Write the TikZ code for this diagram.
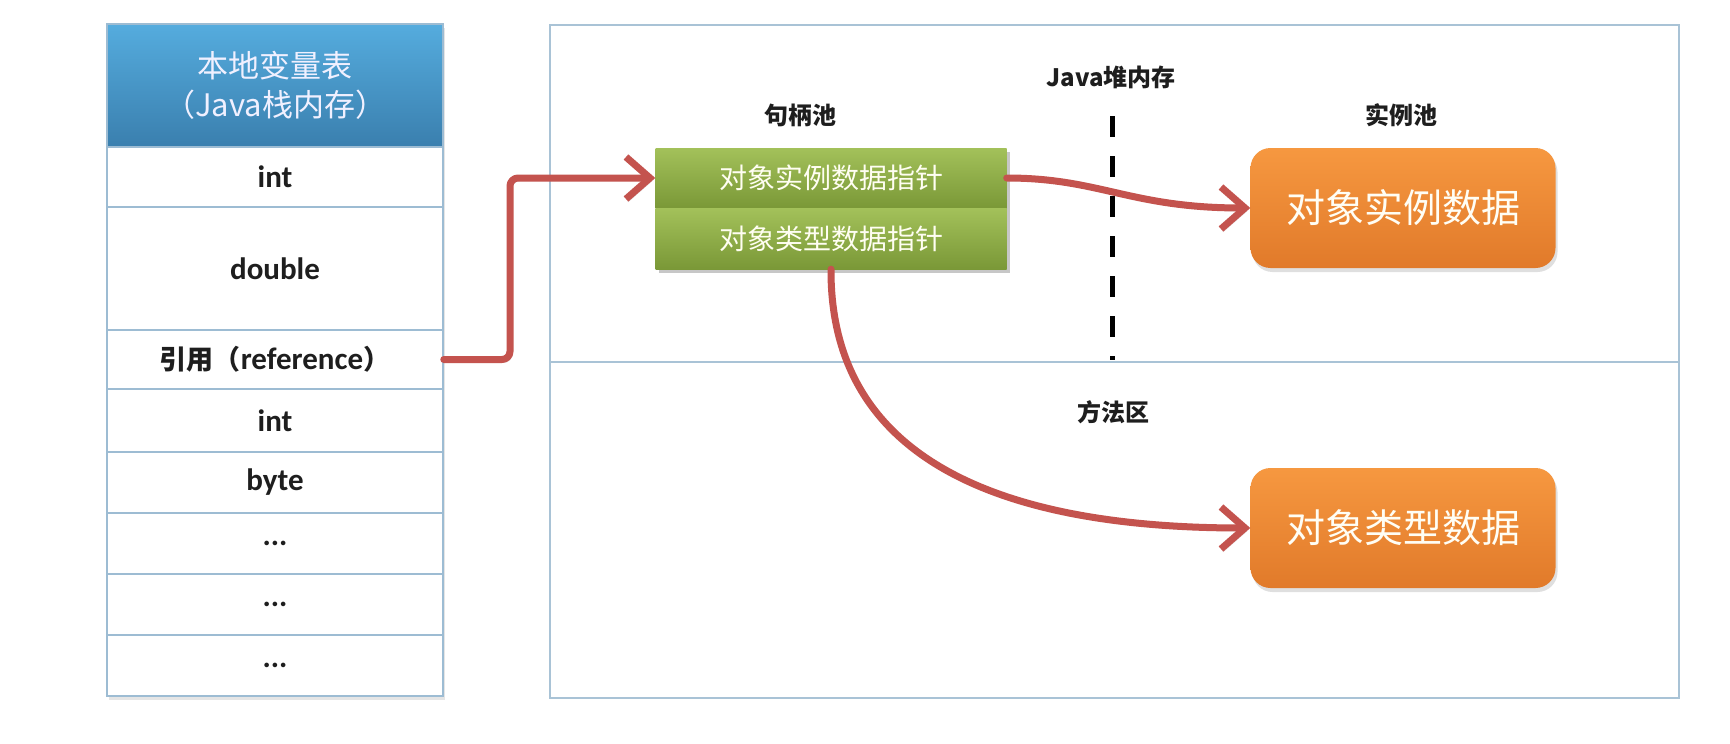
\documentclass[tikz,border=0pt]{standalone}
\usepackage{fontspec}
\setmainfont{Carlito}
\newfontfamily\cjk{Noto Sans CJK SC}
\usetikzlibrary{arrows.meta,shadows}

\definecolor{hdtop}{HTML}{55ACDE}
\definecolor{hdbot}{HTML}{3A7FAE}
\definecolor{gridc}{HTML}{9DBCD3}
\definecolor{boxc}{HTML}{A9C3D6}
\definecolor{grtop}{HTML}{A3C15A}
\definecolor{grbot}{HTML}{7A9837}
\definecolor{ortop}{HTML}{F69840}
\definecolor{orbot}{HTML}{E17A2A}
\definecolor{arrc}{HTML}{C4534E}
\definecolor{txt}{HTML}{1E1E1E}

\newcommand\cnpart[1]{{\cjk\fontsize{27}{30}\selectfont\bfseries #1}}

\tikzset{
  cell/.style={draw=gridc, line width=1.5pt, fill=white, inner sep=0pt,
    minimum width=336pt, text=txt, font=\fontsize{31}{36}\selectfont\bfseries},
  header/.style={cell, top color=hdtop, bottom color=hdbot, text=white!94!blue,
    font=\fontsize{31}{39}\selectfont\cjk, align=center, minimum height=123pt},
  ptr/.style={inner sep=0pt, minimum width=351pt, top color=grtop, bottom color=grbot,
    text=white!95!yellow, font=\fontsize{28}{32}\selectfont\cjk},
  data/.style={rounded corners=20pt, inner sep=0pt, minimum width=305pt, minimum height=120pt,
    top color=ortop, bottom color=orbot, text=white!96!yellow,
    font=\fontsize{39}{44}\selectfont\cjk,
    drop shadow={shadow xshift=2pt, shadow yshift=-4pt, opacity=0.25}},
  lbl/.style={font=\fontsize{24}{28}\selectfont\cjk\bfseries, text=txt},
  link/.style={draw=arrc, line width=7pt, line cap=round, line join=round,
    -{Straight Barb[length=24pt,width=42pt]},
    preaction={draw=black!70, opacity=0.2, transform canvas={shift={(2pt,-3pt)}}}}
}

\begin{document}
\begin{tikzpicture}[x=1pt, y=-1pt]
\useasboundingbox[fill=white] (0,0) rectangle (1730,744);

% heap / method area frame
\node[draw=boxc, line width=2pt, inner sep=0pt, minimum width=1129pt, minimum height=673pt,
      anchor=north west] (heap) at (549,24) {};
\draw[boxc, line width=2pt] (heap.west) -- (heap.east);

% local variable table (Java stack)
\node[cell, minimum height=672pt, fill=white,
      drop shadow={shadow xshift=2pt, shadow yshift=-4pt, opacity=0.2}] (tblbg) at (275,360) {};
\node[header] (hd) at (275,85.5) {本地变量表\\（Java栈内存）};
\node[cell, minimum height=60pt]  (r1) at (275,177)   {int};
\node[cell, minimum height=123pt] (r2) at (275,268.5) {double};
\node[cell, minimum height=59pt]  (r3) at (275,359.5) {\cnpart{引用（}reference\cnpart{）}};
\node[cell, minimum height=63pt]  (r4) at (275,420.5) {int};
\node[cell, minimum height=61pt]  (r5) at (275,482.5) {byte};
\node[cell, minimum height=61pt]  (r6) at (275,543.5) {...};
\node[cell, minimum height=61pt]  (r7) at (275,604.5) {...};
\node[cell, minimum height=61pt]  (r8) at (275,665.5) {...};

% region labels
\node[lbl] (lhandle) at (800,115) {句柄池};
\node[lbl] (lheap)   at (1111,77) {Java堆内存};
\node[lbl] (linst)   at (1401,115) {实例池};
\node[lbl] (lmethod) at (1113,412) {方法区};

% heap / method area dividing dashed line
\coordinate (dtop) at (1112,116);
\coordinate (dbot) at (1112,360);
\draw[black, line width=5pt, dash pattern=on 21pt off 19pt] (dtop) -- (dbot);

% handle pool
\fill[black, opacity=0.22] (659,152) rectangle (1010,273);
\node[ptr, minimum height=60pt] (g1) at (831,178) {对象实例数据指针};
\node[ptr, minimum height=61pt] (g2) at (831,238.5) {对象类型数据指针};

% instance data and type data
\node[data] (inst) at (1403,208) {对象实例数据};
\node[data] (type) at (1403,528) {对象类型数据};

% connectors
\draw[link, rounded corners=8pt] (r3.east) -- (510,359.5) |- (g1.west);
\draw[link] (g1.east) .. controls (1100,178) and (1130,208) .. (inst.west);
\draw[link] (g2.south) .. controls (830,470) and (1020,528) .. (type.west);
\end{tikzpicture}
\end{document}
